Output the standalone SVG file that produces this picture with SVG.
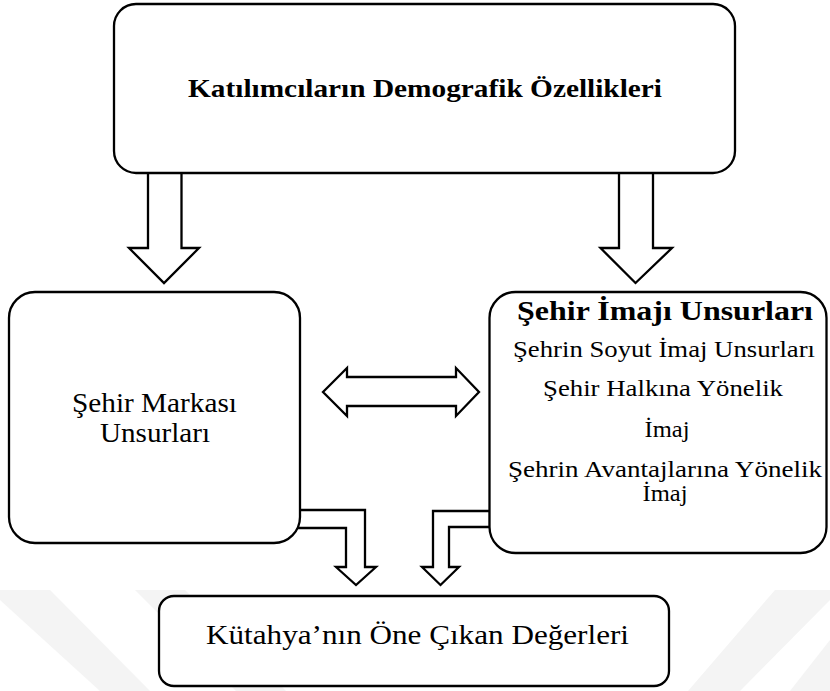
<svg xmlns="http://www.w3.org/2000/svg" width="830" height="691" viewBox="0 0 830 691">
<style>
.box{fill:#fff;stroke:#000;stroke-width:2.3}
.arr{fill:#fff;stroke:#000;stroke-width:2.3;stroke-linejoin:miter}
.wm{fill:#f4f4f4}
text{font-family:'Liberation Serif','Times New Roman',serif;fill:#000;text-anchor:middle}
.b{font-weight:bold}
</style>
<rect width="830" height="691" fill="#fff"/>
<g id="watermark">
<polygon class="wm" points="0,590 50,590 150,691 100,691 0,600"/>
<polygon class="wm" points="135,590 185,590 286,691 236,691"/>
<polygon class="wm" points="775,590 830,590 830,600 740,691 688,691"/>
<polygon class="wm" points="830,640 830,691 790,691"/>
</g>
<g id="connectors">
<polygon class="arr" points="148,172 181.5,172 181.5,248 199,248 164,283 129,248 148,248"/>
<polygon class="arr" points="619,172 653,172 653,248 672,248 635.5,283 600.5,248 619,248"/>
<polygon class="arr" points="323,392 347,368 347,377 456,377 456,368 479,392 456,416 456,406 347,406 347,416"/>
<polygon class="arr" points="297,510 365,510 365,567 376,567 356,585 336,567 346,567 346,528 297,528"/>
<polygon class="arr" points="490,511 433,511 433,567 422,567 440.5,585 459,567 449,567 449,527 490,527"/>
</g>
<g id="top">
<rect class="box" x="114" y="4" width="621" height="169" rx="22" ry="22"/>
<text class="b" x="425" y="97" font-size="26" textLength="474" lengthAdjust="spacingAndGlyphs">Katılımcıların Demografik Özellikleri</text>
</g>
<g id="marka">
<rect class="box" x="9" y="292" width="291" height="251" rx="26" ry="26"/>
<text x="154.5" y="412" font-size="28" textLength="165" lengthAdjust="spacingAndGlyphs">Şehir Markası</text>
<text x="155" y="442" font-size="28" textLength="110" lengthAdjust="spacingAndGlyphs">Unsurları</text>
</g>
<g id="imaj">
<rect class="box" x="489.5" y="292" width="337" height="261" rx="26" ry="26"/>
<text class="b" x="665" y="320" font-size="27" textLength="296" lengthAdjust="spacingAndGlyphs">Şehir İmajı Unsurları</text>
<text x="664" y="357" font-size="23" textLength="302" lengthAdjust="spacingAndGlyphs">Şehrin Soyut İmaj Unsurları</text>
<text x="663" y="396" font-size="23" textLength="240" lengthAdjust="spacingAndGlyphs">Şehir Halkına Yönelik</text>
<text x="667" y="437" font-size="23" textLength="45" lengthAdjust="spacingAndGlyphs">İmaj</text>
<text x="665" y="477" font-size="23" textLength="314" lengthAdjust="spacingAndGlyphs">Şehrin Avantajlarına Yönelik</text>
<text x="665" y="501" font-size="23" textLength="45" lengthAdjust="spacingAndGlyphs">İmaj</text>
</g>
<g id="kutahya">
<rect class="box" x="159" y="596" width="510" height="90" rx="15" ry="15"/>
<text x="417.5" y="644" font-size="28" textLength="423" lengthAdjust="spacingAndGlyphs">Kütahya’nın Öne Çıkan Değerleri</text>
</g>
</svg>
